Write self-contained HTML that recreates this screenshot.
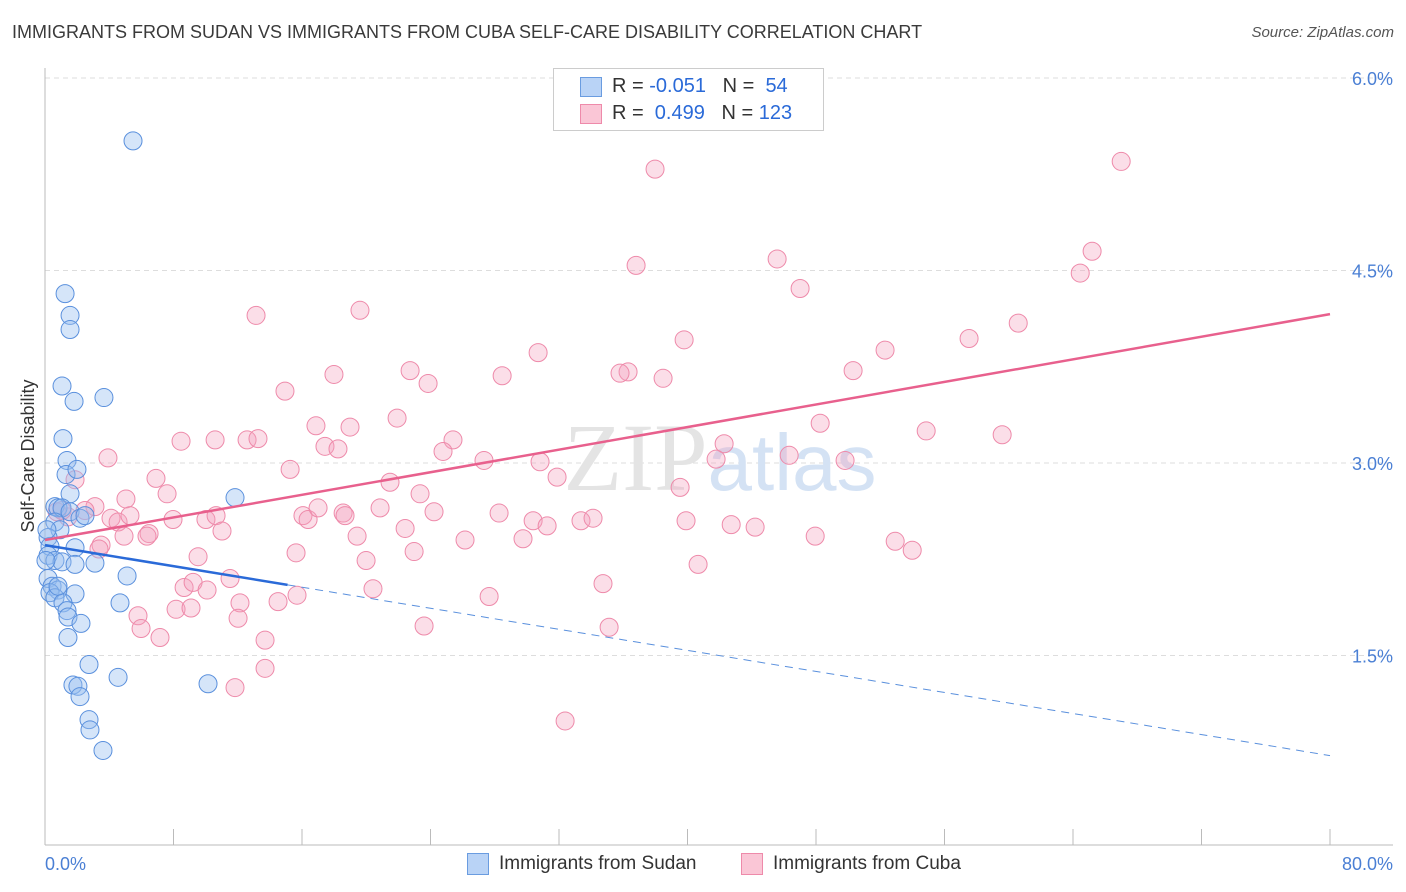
<!DOCTYPE html>
<html><head><meta charset="utf-8"><style>
body{margin:0;background:#fff;font-family:"Liberation Sans",sans-serif;}
#wrap{position:relative;width:1406px;height:892px;overflow:hidden;}
.t{position:absolute;white-space:nowrap;}
</style></head><body>
<div id="wrap">
<div class="t" style="left:12px;top:22px;font-size:18px;color:#3a3a3a;">IMMIGRANTS FROM SUDAN VS IMMIGRANTS FROM CUBA SELF-CARE DISABILITY CORRELATION CHART</div>
<div class="t" style="right:12px;top:24px;font-size:15px;color:#555;font-style:italic;">Source: ZipAtlas.com</div>
<svg id="svg" width="1406" height="892" style="position:absolute;left:0;top:0"></svg>
</div>
<script>
const xTickLabels=["0.0%","80.0%"];
const yTicks=[1.5,3.0,4.5,6.0];
const yTickLabels=["1.5%","3.0%","4.5%","6.0%"];
const sudanX=[5.48,1.25,1.56,1.56,1.06,1.81,3.67,1.12,1.37,1.31,1.99,1.56,11.83,0.62,0.81,1.06,1.56,2.18,0.62,0.93,0.19,0.31,1.87,0.19,0.62,1.06,1.87,3.11,5.11,0.19,0.44,0.81,0.31,0.62,1.87,1.12,4.67,1.37,1.43,2.24,1.43,2.74,4.55,1.74,2.05,10.15,2.18,2.74,2.80,3.61,0.12,0.06,0.81,2.49];
const sudanY=[5.51,4.32,4.15,4.04,3.60,3.48,3.51,3.19,3.02,2.91,2.95,2.76,2.73,2.66,2.65,2.65,2.62,2.57,2.54,2.48,2.42,2.35,2.34,2.28,2.24,2.23,2.21,2.22,2.12,2.10,2.04,2.01,1.99,1.95,1.98,1.91,1.91,1.85,1.80,1.75,1.64,1.43,1.33,1.27,1.26,1.28,1.18,1.00,0.92,0.76,2.48,2.24,2.04,2.59];
const cubaX=[37.98,67.0,65.19,64.45,36.80,45.58,47.01,13.14,19.61,60.59,57.53,39.79,52.30,30.70,50.31,36.30,35.80,38.48,28.46,22.73,23.85,17.99,14.94,21.92,18.99,16.87,59.59,48.26,54.86,8.47,10.59,12.58,13.26,17.43,18.24,25.40,24.78,42.28,41.78,27.33,30.82,46.33,49.81,3.92,15.26,39.54,6.91,1.87,7.60,5.04,21.48,23.35,3.11,1.43,0.75,1.06,2.49,4.11,4.55,5.29,7.97,10.02,10.65,16.06,16.38,17.00,18.56,18.68,20.86,24.22,28.27,30.39,31.26,33.37,34.12,39.91,42.72,44.21,22.42,19.43,6.48,6.35,4.92,11.02,26.15,29.76,47.95,52.93,53.99,3.49,3.36,15.63,22.98,19.99,9.53,40.66,8.66,9.22,10.09,11.52,34.74,20.42,15.69,14.51,12.14,27.65,8.16,9.09,5.79,12.02,23.60,35.12,5.98,7.16,13.70,13.70,11.83,32.38,31.88];
const cubaY=[5.29,5.35,4.65,4.48,4.54,4.59,4.36,4.15,4.19,4.09,3.97,3.96,3.88,3.86,3.72,3.71,3.70,3.66,3.68,3.72,3.62,3.69,3.56,3.35,3.28,3.29,3.22,3.31,3.25,3.17,3.18,3.18,3.19,3.13,3.11,3.18,3.09,3.15,3.03,3.02,3.01,3.06,3.02,3.04,2.95,2.81,2.88,2.87,2.76,2.72,2.85,2.76,2.66,2.58,2.62,2.63,2.63,2.57,2.54,2.59,2.56,2.56,2.59,2.59,2.56,2.65,2.61,2.59,2.65,2.62,2.61,2.55,2.51,2.55,2.57,2.55,2.52,2.50,2.49,2.43,2.45,2.43,2.43,2.47,2.40,2.41,2.43,2.39,2.32,2.36,2.33,2.30,2.31,2.24,2.27,2.21,2.03,2.07,2.01,2.10,2.06,2.02,1.97,1.92,1.91,1.96,1.86,1.87,1.81,1.79,1.73,1.72,1.71,1.64,1.62,1.40,1.25,0.99,2.89];
const sudanTrend=[2.36,0.72]; const sudanSolidEnd=15.1;
const cubaTrend=[2.40,4.16];

const NS="http://www.w3.org/2000/svg";
const svg=document.getElementById('svg');
const X0=45,X1=1330,Y0=848,PX=(X1-X0)/80,PY=128.33;
const sx=v=>X0+v*PX, sy=v=>Y0-v*PY;
function mk(tag,attrs){const e=document.createElementNS(NS,tag);for(const k in attrs)e.setAttribute(k,attrs[k]);svg.appendChild(e);return e;}
// gridlines
yTicks.forEach((t,i)=>{
 const g=mk('line',{x1:X0,x2:1393,y1:sy(t),y2:sy(t),stroke:'#ddd','stroke-dasharray':'5,4'});
 
 
 const tx=mk('text',{x:1393,y:sy(t)+7,'text-anchor':'end','font-size':18,fill:'#4a7fd4','font-family':'Liberation Sans'});
 tx.textContent=yTickLabels[i];
 
 
});
// axes
const ax=mk('line',{x1:X0,x2:X0,y1:68,y2:845,stroke:'#bbb'});


const bx=mk('line',{x1:X0,x2:1393,y1:845,y2:845,stroke:'#bbb'});


for(let i=1;i<=10;i++){const tk=mk('line',{x1:sx(i*8),x2:sx(i*8),y1:829,y2:845,stroke:'#bbb'});
 
 }
[[0,'start',X0],[1,'end',1393]].forEach(([i,a,x])=>{const t=mk('text',{x:x,y:870,'text-anchor':a,'font-size':18,fill:'#4a7fd4','font-family':'Liberation Sans'});t.textContent=xTickLabels[i];
 
 });
// y title
const yt=mk('text',{x:0,y:0,transform:'translate(34,456) rotate(-90)','text-anchor':'middle','font-size':18,fill:'#333','font-family':'Liberation Sans'});
yt.textContent='Self-Care Disability';


// watermark
const wm=mk('text',{x:720,y:490,'text-anchor':'middle','font-size':96,'font-family':'Liberation Serif',fill:'#e4e4e4'});
wm.innerHTML='ZIP<tspan fill="#d4e2f4" font-family="Liberation Sans" font-size="80">atlas</tspan>';


// points
cubaX.forEach((x,i)=>{const c=mk('circle',{cx:sx(x),cy:sy(cubaY[i]),r:9,fill:'rgba(244,160,190,0.35)',stroke:'#ee8aaa','stroke-width':1});
 
 });
sudanX.forEach((x,i)=>{const c=mk('circle',{cx:sx(x),cy:sy(sudanY[i]),r:9,fill:'rgba(150,190,240,0.4)',stroke:'#5a90dd','stroke-width':1});
 
 });
// trends
const ct=mk('line',{x1:sx(0),y1:sy(cubaTrend[0]),x2:sx(80),y2:sy(cubaTrend[1]),stroke:'#e8608d','stroke-width':2.5});


const ys=v=>sudanTrend[0]+(sudanTrend[1]-sudanTrend[0])*v/80;
const st=mk('line',{x1:sx(0),y1:sy(ys(0)),x2:sx(sudanSolidEnd),y2:sy(ys(sudanSolidEnd)),stroke:'#2a6ad8','stroke-width':2.5});


const sd=mk('line',{x1:sx(sudanSolidEnd),y1:sy(ys(sudanSolidEnd)),x2:sx(80),y2:sy(ys(80)),stroke:'#5a90dd','stroke-width':1,'stroke-dasharray':'8,6'});


</script>
<div class="t" style="left:553px;top:68px;width:269px;height:61px;border:1px solid #ccc;background:#fff;font-size:20px;">
 <div style="position:absolute;left:26px;top:8px;width:20px;height:18px;background:#b9d3f6;border:1px solid #6a9ce0;"></div>
 <div class="t" style="left:58px;top:6px;color:#333">R = <span style="color:#2a6ad8">-0.051</span>&nbsp;&nbsp;&nbsp;N = &nbsp;<span style="color:#2a6ad8">54</span></div>
 <div style="position:absolute;left:26px;top:35px;width:20px;height:18px;background:#fac6d6;border:1px solid #ee8aaa;"></div>
 <div class="t" style="left:58px;top:33px;color:#333">R = &nbsp;<span style="color:#2a6ad8">0.499</span>&nbsp;&nbsp;&nbsp;N = <span style="color:#2a6ad8">123</span></div>
</div>
<div style="position:absolute;left:467px;top:853px;width:20px;height:20px;background:#b9d3f6;border:1px solid #6a9ce0;"></div>
<div class="t" style="left:499px;top:853px;font-size:19px;color:#333">Immigrants from Sudan</div>
<div style="position:absolute;left:741px;top:853px;width:20px;height:20px;background:#fac6d6;border:1px solid #ee8aaa;"></div>
<div class="t" style="left:773px;top:853px;font-size:19px;color:#333">Immigrants from Cuba</div>
</body></html>
